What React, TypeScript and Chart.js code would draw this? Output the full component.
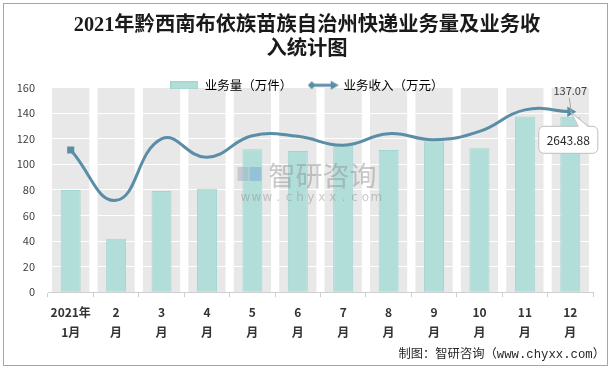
import React, { useEffect, useRef } from "react";
import { Chart, registerables } from "chart.js";

Chart.register(...registerables);

const titleLines = ["2021年黔西南布依族苗族自治州快递业务量及业务收", "入统计图"];
const monthLabels = [
  ["2021年", "1月"], ["2", "月"], ["3", "月"], ["4", "月"], ["5", "月"], ["6", "月"],
  ["7", "月"], ["8", "月"], ["9", "月"], ["10", "月"], ["11", "月"], ["12", "月"],
];
const volumeName = "业务量（万件）";
const revenueName = "业务收入（万元）";
const volume = [79.8, 41.8, 79.1, 80.9, 111.7, 110.4, 114.5, 111.2, 117.9, 112.5, 137.3, 137.07];
const revenue = [2085, 1346, 2246, 1978, 2293, 2284, 2153, 2323, 2235, 2357, 2672, 2643.88];
const yMin = 0;
const yMax = 160;
const yStep = 20;
const revenueAxisMax = 3000;
const sourceText = "制图：智研咨询（www.chyxx.com）";
const watermarkCn = "智研咨询";
const watermarkUrl = "www.chyxx.com";

const LINE_COLOR = "#5A8EA6";
const BAR_FILL = "#B2DEDA";
const BAR_BORDER = "#A2D5D0";
const BAND = "#E8E8E8";
const CJK = "'Microsoft YaHei', 'Noto Sans CJK SC', sans-serif";

function makeBoxIcon() {
  const c = document.createElement("canvas");
  c.width = 28;
  c.height = 8;
  const g = c.getContext("2d")!;
  g.fillStyle = BAR_FILL;
  g.fillRect(0, 0, 28, 8);
  g.strokeStyle = BAR_BORDER;
  g.lineWidth = 1;
  g.strokeRect(0.5, 0.5, 27, 7);
  return c;
}

function makeLineIcon() {
  const c = document.createElement("canvas");
  c.width = 31;
  c.height = 10;
  const g = c.getContext("2d")!;
  g.strokeStyle = LINE_COLOR;
  g.fillStyle = LINE_COLOR;
  g.lineWidth = 3;
  g.beginPath();
  g.moveTo(4, 5);
  g.lineTo(25, 5);
  g.stroke();
  g.beginPath();
  g.moveTo(0, 5);
  g.lineTo(4, 1);
  g.lineTo(8, 5);
  g.lineTo(4, 9);
  g.closePath();
  g.fill();
  g.beginPath();
  g.moveTo(31, 5);
  g.lineTo(23, 0.5);
  g.lineTo(23, 9.5);
  g.closePath();
  g.fill();
  return c;
}

const bandsPlugin = {
  id: "bands",
  beforeDraw(chart: any) {
    const { ctx, chartArea, scales } = chart;
    const xs = scales.x;
    const w = (xs.width / monthLabels.length) * 0.82;
    ctx.save();
    ctx.fillStyle = BAND;
    monthLabels.forEach((_, i) => {
      const x = xs.getPixelForValue(i);
      ctx.fillRect(x - w / 2, chartArea.top, w, chartArea.bottom - chartArea.top);
    });
    ctx.restore();
  },
};

const legendShrinkPlugin = {
  id: "legendShrink",
  beforeInit(chart: any) {
    const legend = chart.legend;
    if (!legend) return;
    const orig = legend.fit;
    legend.fit = function () {
      orig.call(this);
      this.height = 25.5;
    };
    legend.draw = function () {
      if (this.options.display) this._draw();
    };
  },
};

const overlayPlugin = {
  id: "overlay",
  afterDraw(chart: any) {
    const { ctx, chartArea } = chart;
    ctx.save();
    // watermark
    const cx = (chartArea.left + chartArea.right) / 2;
    ctx.globalAlpha = 0.45;
    ctx.fillStyle = "#8a8a8a";
    ctx.font = `27px ${CJK}`;
    ctx.textAlign = "center";
    ctx.textBaseline = "middle";
    ctx.fillText(watermarkCn, cx + 2, 176);
    ctx.font = "12px 'DejaVu Sans', sans-serif";
    const chars = watermarkUrl.split("");
    const startX = cx - 80;
    chars.forEach((ch, i) => ctx.fillText(ch, startX + 5 + i * 10.9, 198));
    ctx.fillStyle = "#9aa7b5";
    ctx.fillRect(cx - 83, 167, 11, 14);
    ctx.fillStyle = "#6f9fd0";
    ctx.fillRect(cx - 71, 167, 12, 14);
    ctx.globalAlpha = 1;

    // value label above last bar
    const barMeta = chart.getDatasetMeta(0);
    const lastBar = barMeta.data[barMeta.data.length - 1];
    const lineMeta = chart.getDatasetMeta(1);
    const lastPt = lineMeta.data[lineMeta.data.length - 1];
    ctx.fillStyle = "#404040";
    ctx.font = `11px ${CJK}`;
    ctx.fillText(volume[volume.length - 1].toFixed(2), lastBar.x, lastBar.y - 26);
    ctx.strokeStyle = "#a6a6a6";
    ctx.lineWidth = 1;
    ctx.beginPath();
    ctx.moveTo(lastBar.x - 1, lastBar.y - 19);
    ctx.lineTo(lastBar.x + 1, lastBar.y - 4);
    ctx.stroke();

    // callout for revenue
    const bx = lastPt.x - 32;
    const by = lastPt.y + 14;
    const bw = 59;
    const bh = 27;
    ctx.fillStyle = "#ffffff";
    ctx.strokeStyle = "#bfbfbf";
    ctx.beginPath();
    (ctx as any).roundRect(bx + 0.5, by + 0.5, bw, bh, 5);
    ctx.fill();
    ctx.stroke();
    ctx.beginPath();
    ctx.moveTo(lastPt.x + 1, lastPt.y + 1);
    ctx.lineTo(lastPt.x + 8, by + 1.5);
    ctx.lineTo(lastPt.x + 18, by + 1.5);
    ctx.closePath();
    ctx.fill();
    ctx.beginPath();
    ctx.moveTo(lastPt.x + 8, by + 0.5);
    ctx.lineTo(lastPt.x + 1, lastPt.y + 1);
    ctx.lineTo(lastPt.x + 18, by + 0.5);
    ctx.stroke();
    ctx.fillStyle = "#262626";
    ctx.font = `12px ${CJK}`;
    ctx.fillText(revenue[revenue.length - 1].toFixed(2), bx + bw / 2 + 0.5, by + bh / 2 + 1);

    // source
    ctx.textAlign = "right";
    ctx.fillStyle = "#262626";
    ctx.font = `12.3px 'Liberation Mono', 'Noto Sans CJK SC', monospace`;
    ctx.fillText(sourceText, 605, 355);
    ctx.restore();
  },
};

export default function App() {
  const ref = useRef<HTMLCanvasElement>(null);
  useEffect(() => {
    if (!ref.current) return;
    const boxIcon = makeBoxIcon();
    const lineIcon = makeLineIcon();
    const n = revenue.length;
    const chart = new Chart(ref.current, {
      data: {
        labels: monthLabels as any,
        datasets: [
          {
            type: "bar",
            label: volumeName,
            data: volume,
            backgroundColor: BAR_FILL,
            borderColor: BAR_BORDER,
            borderWidth: 1,
            barPercentage: 0.44,
            categoryPercentage: 1,
            yAxisID: "y",
            order: 2,
          },
          {
            type: "line",
            label: revenueName,
            data: revenue,
            borderColor: LINE_COLOR,
            backgroundColor: LINE_COLOR,
            borderWidth: 3,
            tension: 0.45,
            pointStyle: revenue.map((_, i) => (i === 0 ? "rect" : "triangle")) as any,
            pointRadius: revenue.map((_, i) => (i === 0 ? 5 : i === n - 1 ? 6 : 0)),
            pointRotation: revenue.map((_, i) => (i === n - 1 ? 90 : 0)),
            pointBorderWidth: 0,
            yAxisID: "y1",
            order: 1,
          },
        ],
      } as any,
      options: {
        animation: false,
        responsive: false,
        devicePixelRatio: 1,
        events: [],
        layout: { padding: { top: 0, left: 0, right: 0, bottom: 22 } },
        plugins: {
          title: {
            display: true,
            text: titleLines,
            color: "#1a1a1a",
            font: { size: 20.3, weight: "bold", family: `'Liberation Serif', 'Noto Sans CJK SC', serif`, lineHeight: 24 / 20.3 },
            padding: { top: 14, bottom: 0 },
          },
          legend: {
            display: true,
            position: "top",
            labels: {
              usePointStyle: true,
              pointStyleWidth: 28,
              padding: 17,
              color: "#404040",
              font: { size: 12.5, family: CJK },
              generateLabels: () => [
                { text: volumeName, pointStyle: boxIcon, datasetIndex: 0, fillStyle: BAR_FILL, strokeStyle: BAR_BORDER, lineWidth: 0, hidden: false },
                { text: revenueName, pointStyle: lineIcon, datasetIndex: 1, fillStyle: LINE_COLOR, strokeStyle: LINE_COLOR, lineWidth: 0, hidden: false },
              ] as any,
            },
          },
          tooltip: { enabled: false },
        },
        scales: {
          x: {
            offset: true,
            grid: { display: true, drawOnChartArea: false, drawTicks: true, tickLength: 5, color: "#d0d0d0", offset: true },
            border: { display: true, color: "#d0d0d0" },
            ticks: {
              padding: 5,
              color: "#333333",
              maxRotation: 0,
              autoSkip: false,
              font: { size: 12, weight: "bold", family: CJK, lineHeight: 1.7 },
            },
          },
          y: {
            min: yMin,
            max: yMax,
            afterFit: (s: any) => {
              s.width = 48;
            },
            grid: { color: "#ffffff", lineWidth: 1, drawTicks: false },
            border: { display: false },
            ticks: { stepSize: yStep, padding: 13, color: "#404040", font: { size: 11, family: CJK } },
          },
          y1: {
            display: true,
            position: "right",
            min: 0,
            max: revenueAxisMax,
            afterFit: (s: any) => {
              s.width = 21;
            },
            grid: { display: false, drawTicks: false },
            border: { display: false },
            ticks: { display: false },
          },
        },
      } as any,
      plugins: [bandsPlugin, legendShrinkPlugin, overlayPlugin],
    });
    return () => chart.destroy();
  }, []);

  return (
    <div>
      <div
        style={{
          position: "absolute",
          left: 3,
          top: 3,
          width: 605,
          height: 363,
          border: "1px solid #a6a6a6",
          boxSizing: "border-box",
          background: "#fff",
        }}
      />
      <canvas
        ref={ref}
        width={614}
        height={370}
        style={{ position: "absolute", left: 0, top: 0, width: 614, height: 370 }}
      />
    </div>
  );
}
